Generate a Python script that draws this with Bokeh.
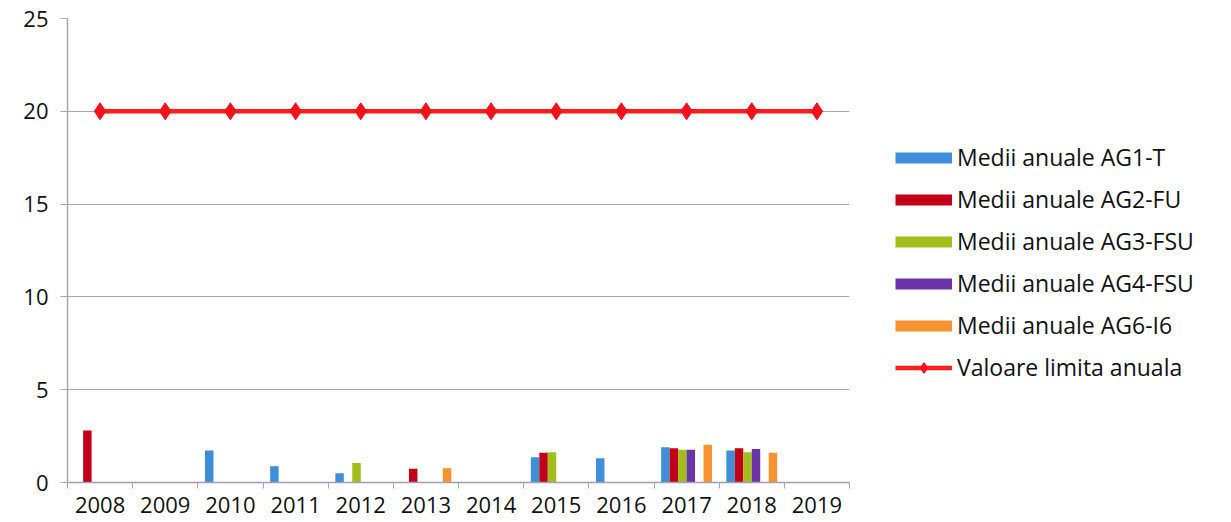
from bokeh.plotting import figure
from bokeh.models import (ColumnDataSource, FixedTicker, Legend, LegendItem, Range1d)
from bokeh.embed import file_html
from bokeh.resources import INLINE

# ---- data -------------------------------------------------------------
years = ["2008", "2009", "2010", "2011", "2012", "2013",
         "2014", "2015", "2016", "2017", "2018", "2019"]
nan = float("nan")
ag1_t = [nan, nan, 1.72, 0.88, 0.50, nan, nan, 1.36, 1.31, 1.90, 1.72, nan]
ag2_fu = [2.80, nan, nan, nan, nan, 0.74, nan, 1.60, nan, 1.85, 1.85, nan]
ag3_fsu = [nan, nan, nan, nan, 1.05, nan, nan, 1.63, nan, 1.76, 1.63, nan]
ag4_fsu = [nan, nan, nan, nan, nan, nan, nan, nan, nan, 1.76, 1.80, nan]
ag6_i6 = [nan, nan, nan, nan, nan, 0.77, nan, nan, nan, 2.03, 1.60, nan]
limit = [20] * 12
y_ticks = [0, 5, 10, 15, 20, 25]

series = [
    ("Medii anuale AG1-T", ag1_t, "#3d8fd9", 0),
    ("Medii anuale AG2-FU", ag2_fu, "#c20018", 1),
    ("Medii anuale AG3-FSU", ag3_fsu, "#a3bd1c", 2),
    ("Medii anuale AG4-FSU", ag4_fsu, "#6b35a8", 3),
    ("Medii anuale AG6-I6", ag6_i6, "#f5932f", 5),
]
n_slots = 6
slot_w = 0.13

FONT = "Open Sans"
TXT = "#111111"
GRID = "#a8a8a8"
LIMIT_RED = "#ff1c1c"

p = figure(frame_width=782, frame_height=464, output_backend="svg",
           toolbar_location=None,
           x_range=Range1d(0, len(years)), y_range=Range1d(0, 25),
           min_border_left=67, min_border_right=0, min_border_top=18,
           min_border_bottom=40, background_fill_color="white",
           border_fill_color="white", outline_line_color=None)

centers = [i + 0.5 for i in range(len(years))]
legend_items = []
for name, vals, color, slot in series:
    xs = [c + (slot - (n_slots - 1) / 2) * slot_w for c in centers]
    src = ColumnDataSource(dict(x=xs, top=vals))
    p.vbar(x="x", top="top", bottom=0, width=slot_w, source=src,
           fill_color=color, line_color=None)
    # undrawable line used only as the legend swatch (a flat 11px band)
    swatch = p.line(x=[nan, nan], y=[nan, nan], line_color=color,
                    line_width=11, line_cap="butt")
    legend_items.append(LegendItem(label=name, renderers=[swatch]))

lsrc = ColumnDataSource(dict(x=centers, y=limit))
ln = p.line("x", "y", source=lsrc, line_color=LIMIT_RED, line_width=4.5)
mk = p.scatter("x", "y", source=lsrc, marker="diamond", size=17,
               fill_color="#f5101a", line_color="#f5101a")
legend_items.append(LegendItem(label="Valoare limita anuala", renderers=[ln, mk]))

# ---- axes --------------------------------------------------------------
xa = p.xaxis[0]
xa.ticker = FixedTicker(ticks=centers, minor_ticks=list(range(len(years) + 1)))
xa.major_label_overrides = {c: y for c, y in zip(centers, years)}
xa.major_tick_line_color = None
xa.minor_tick_line_color = GRID
xa.minor_tick_out = 6
xa.minor_tick_in = 0
xa.axis_line_color = "#a49cb8"
xa.axis_line_width = 1.5
xa.major_label_text_font = FONT
xa.major_label_text_font_size = "22px"
xa.major_label_text_color = TXT
xa.major_label_standoff = 8

ya = p.yaxis[0]
ya.ticker = FixedTicker(ticks=y_ticks, minor_ticks=[])
ya.axis_line_color = GRID
ya.axis_line_width = 1.5
ya.major_tick_line_color = GRID
ya.major_tick_out = 7
ya.major_tick_in = 0
ya.major_label_text_font = FONT
ya.major_label_text_font_size = "22px"
ya.major_label_text_color = TXT
ya.major_label_standoff = 12

p.xgrid.grid_line_color = None
p.ygrid.grid_line_color = GRID
p.ygrid.grid_line_width = 1.2

# ---- legend (right-hand panel) -----------------------------------------
legend = Legend(items=legend_items, location=(46, 99), orientation="vertical",
                glyph_width=57, glyph_height=27, label_height=24, spacing=10,
                padding=0, margin=0, border_line_color=None,
                background_fill_alpha=0, label_standoff=5,
                label_text_font=FONT, label_text_font_size="23px",
                label_text_color=TXT)
p.add_layout(legend, "right")

open("out.html", "w").write(file_html(p, INLINE))
